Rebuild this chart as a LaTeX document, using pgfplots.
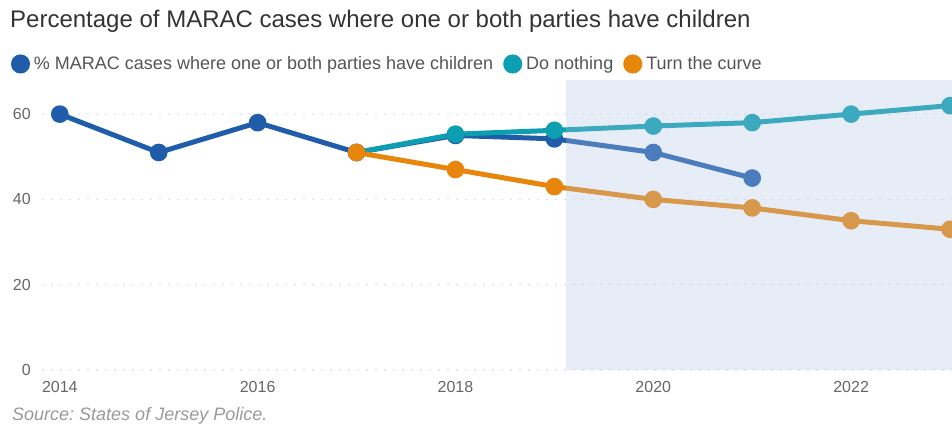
\documentclass[border=0pt]{standalone}
\usepackage{fontspec}
\setmainfont{Liberation Sans}
\usepackage{pgfplots}
\pgfplotsset{compat=1.18}
\frenchspacing
\definecolor{cblue}{HTML}{1F5DAB}
\definecolor{cteal}{HTML}{0C9EB1}
\definecolor{corange}{HTML}{E8850B}
\definecolor{band}{RGB}{177,197,224}
\definecolor{gridc}{HTML}{CFCFCF}
\definecolor{titlec}{HTML}{333333}
\definecolor{legc}{HTML}{555555}
\definecolor{tickc}{HTML}{666666}
\definecolor{srcc}{HTML}{999999}
\begin{document}
\begin{tikzpicture}
\begin{axis}[
  name=ax,
  set layers,
  scale only axis, width=909bp, height=290bp,
  xmin=2013.83, xmax=2023.02, ymin=0, ymax=68,
  axis line style={draw=none},
  major tick length=0pt,
  xtick={2014,2016,2018,2020,2022},
  ytick={0,20,40,60},
  /pgf/number format/assume math mode=true,
  /pgf/number format/1000 sep={},
  xticklabel style={font=\fontsize{16bp}{18bp}\selectfont, text=tickc, yshift=-7.7bp},
  yticklabel style={font=\fontsize{16bp}{18bp}\selectfont, text=tickc, xshift=-8.7bp},
  ymajorgrids,
  grid style={gridc, line width=1.6bp, line cap=round, dash pattern=on 0bp off 9bp},
  legend style={at={(axis description cs:-0.0352,1.0552)}, anchor=west, draw=none, fill=none,
    inner sep=0pt, outer sep=0pt, font=\fontsize{18bp}{21bp}\selectfont, text=legc,
    nodes={inner sep=0pt},
    /tikz/every odd column/.append style={column sep=4bp},
    /tikz/every even column/.append style={column sep=10bp}},
  legend columns=3,
  legend image code/.code={\fill[#1] (7bp,0bp) circle (7bp);},
]
\addplot[cblue, line width=5bp, mark=*, mark size=6.3bp, mark options={solid}]
  coordinates {(2014,60)(2015,51)(2016,58)(2017,51)(2018,55)(2019,54.2)(2020,51)(2021,45)};
\addlegendentry{\% MARAC cases where one or both parties have children}
\addplot[cteal, line width=5bp, mark=*, mark size=6.3bp, mark options={solid}]
  coordinates {(2017,51)(2018,55.3)(2019,56.2)(2020,57.2)(2021,58)(2022,60)(2023,62)};
\addlegendentry{Do nothing}
\addplot[corange, line width=5bp, mark=*, mark size=6.3bp, mark options={solid}]
  coordinates {(2017,51)(2018,47)(2019,43)(2020,40)(2021,38)(2022,35)(2023,33)};
\addlegendentry{Turn the curve}
\begin{pgfonlayer}{axis foreground}
\fill[band, opacity=0.3] (axis cs:2019.12,0) rectangle (axis cs:2024,68);
\end{pgfonlayer}
\end{axis}
\node[anchor=base west, inner sep=0pt, font=\fontsize{24bp}{28bp}\selectfont, text=titlec]
  at ([xshift=-33bp, yshift=52bp]ax.north west) {Percentage of MARAC cases where one or both parties have children};
\node[anchor=base west, inner sep=0pt, font=\fontsize{18bp}{21bp}\selectfont\itshape, text=srcc]
  at ([xshift=-31bp, yshift=-51bp]ax.south west) {Source: States of Jersey Police.};
\pgfresetboundingbox
\path ([xshift=-43bp, yshift=-55bp]ax.south west) rectangle ([yshift=80bp]ax.north east);
\end{tikzpicture}
\end{document}
